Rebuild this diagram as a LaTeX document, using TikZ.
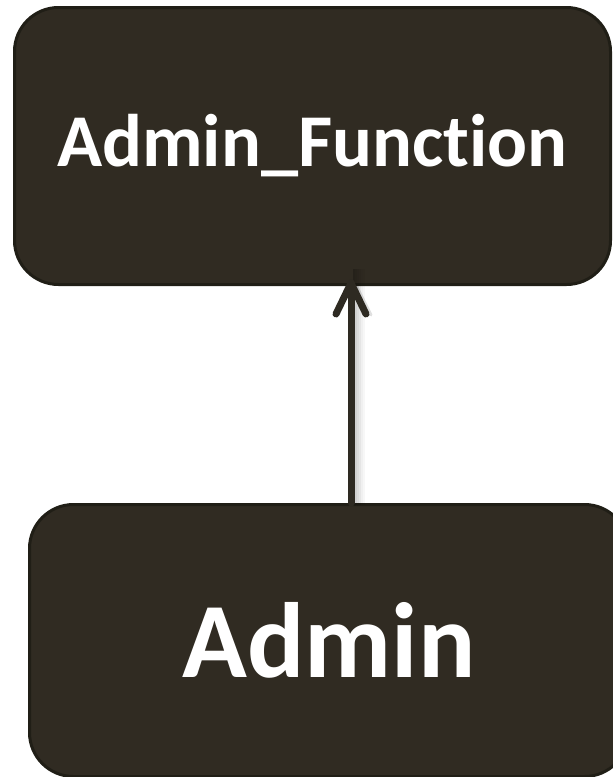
\documentclass[tikz,border=0pt]{standalone}
\usepackage{fontspec}
\setmainfont[Ligatures={NoCommon,NoRequired,NoContextual}]{Carlito}
\definecolor{boxfill}{HTML}{302B22}
\definecolor{boxline}{HTML}{201E16}
\definecolor{arrowcol}{HTML}{2E2A22}
\tikzset{
  blockbox/.style={draw=boxline, line width=3pt, fill=boxfill, rounded corners=44pt,
    text=white, font=\bfseries},
  linkline/.style={draw=arrowcol, line width=7pt, line cap=round, line join=round},
}
\begin{document}
\begin{tikzpicture}[x=1pt, y=-1pt]
  \useasboundingbox (0,0) rectangle (613,777);
  % upper block
  \node[blockbox, minimum width=596pt, minimum height=277pt, anchor=north west,
        font=\bfseries\fontsize{74.5}{86}\selectfont] (func) at (13,6) {Admin\_Function};
  % lower block (runs past the right edge)
  \node[blockbox, minimum width=599pt, minimum height=272pt, anchor=north west,
        font=\bfseries\fontsize{107}{120}\selectfont] (admin) at (28,503) {Admin};
  \coordinate (linkfoot) at (admin.north -| 351,0);
  \coordinate (linkhead) at ([yshift=3pt]func.south -| 351,0);
  % soft shadow to the right of the link
  \foreach \d/\o in {3/0.22,5/0.18,7/0.14,9/0.10,11/0.06,13/0.03}{
    \draw[black, line width=2.5pt, opacity=\o]
      ([xshift=\d pt, yshift=-2pt]linkfoot) -- ([xshift=\d pt, yshift=14pt]linkhead);
  }
  \draw[black, line width=3pt, opacity=0.12, line cap=round]
    ([shift={(6,4)}]linkhead) -- ([shift={(20,32)}]linkhead);
  % link with open head
  \draw[linkline] (linkfoot) -- (linkhead);
  \draw[linkline] ([shift={(-15,31)}]linkhead) -- (linkhead) -- ([shift={(15,31)}]linkhead);
\end{tikzpicture}
\end{document}
